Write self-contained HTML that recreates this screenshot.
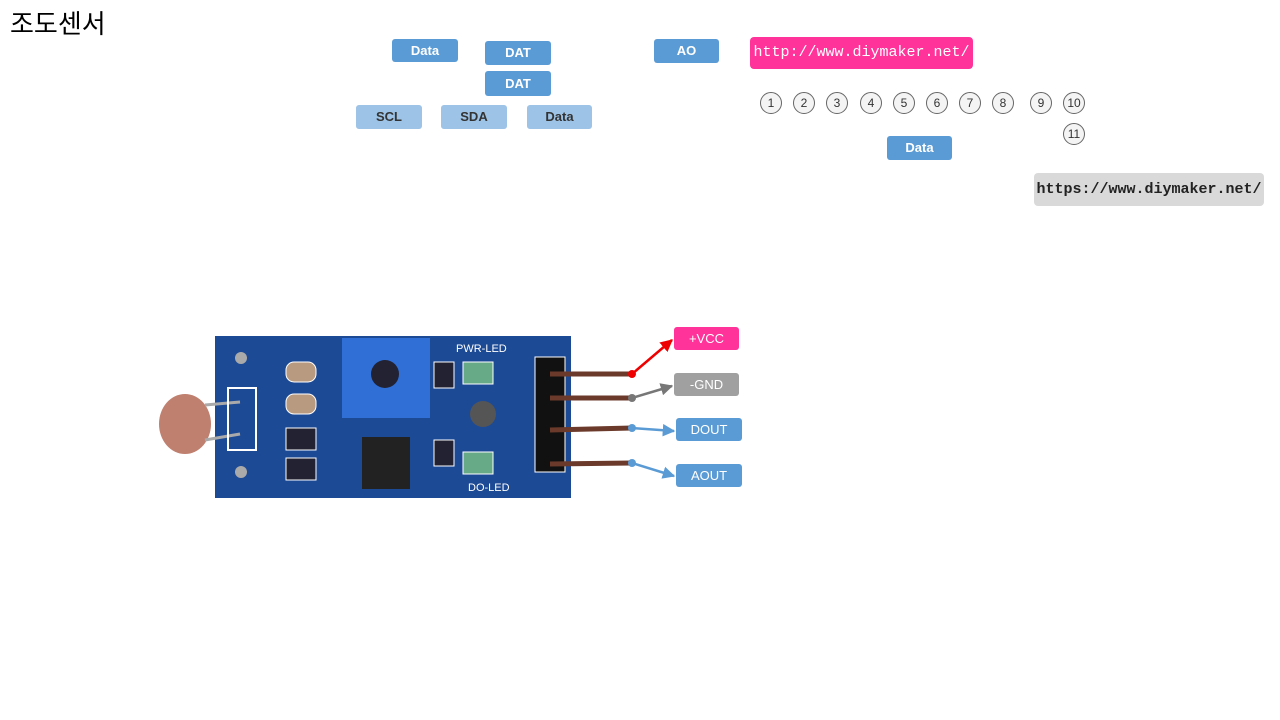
<!DOCTYPE html>
<html><head><meta charset="utf-8"><style>
body{margin:0;width:1280px;height:720px;background:#fff;position:relative;overflow:hidden;font-family:"Liberation Sans","Noto Sans CJK KR",sans-serif}
.b{position:absolute;color:#fff;font-size:13px;font-weight:bold;text-align:center;border-radius:3px;background:#5b9bd5}
.l{background:#9dc3e6;color:#333}
.c{position:absolute;width:20px;height:20px;border:1px solid #666;border-radius:50%;font-size:12px;text-align:center;line-height:20px;color:#333;background:#f4f4f4}
</style></head><body>
<div style="position:absolute;left:10px;top:4px;font-size:26px;color:#000">조도센서</div>
<div class="b" style="left:392px;top:39px;width:66px;height:23px;line-height:23px">Data</div>
<div class="b" style="left:485px;top:41px;width:66px;height:24px;line-height:24px">DAT</div>
<div class="b" style="left:485px;top:71px;width:66px;height:25px;line-height:25px">DAT</div>
<div class="b" style="left:654px;top:39px;width:65px;height:24px;line-height:24px">AO</div>
<div class="b l" style="left:356px;top:105px;width:66px;height:24px;line-height:24px">SCL</div>
<div class="b l" style="left:441px;top:105px;width:66px;height:24px;line-height:24px">SDA</div>
<div class="b l" style="left:527px;top:105px;width:65px;height:24px;line-height:24px">Data</div>
<div class="b" style="left:750px;top:37px;width:223px;height:32px;line-height:32px;background:#ff3399;font-family:'Liberation Mono',monospace;font-weight:normal;font-size:15px;border-radius:4px">http://www.diymaker.net/</div>
<div class="b" style="left:887px;top:136px;width:65px;height:24px;line-height:24px">Data</div>
<div class="b" style="left:1034px;top:173px;width:230px;height:33px;line-height:33px;background:#d9d9d9;color:#222;font-family:'Liberation Mono',monospace;font-size:15px;border-radius:4px">https://www.diymaker.net/</div>
<div class="c" style="left:760px;top:92px">1</div><div class="c" style="left:793px;top:92px">2</div><div class="c" style="left:826px;top:92px">3</div><div class="c" style="left:860px;top:92px">4</div><div class="c" style="left:893px;top:92px">5</div><div class="c" style="left:926px;top:92px">6</div><div class="c" style="left:959px;top:92px">7</div><div class="c" style="left:992px;top:92px">8</div><div class="c" style="left:1030px;top:92px">9</div><div class="c" style="left:1063px;top:92px">10</div><div class="c" style="left:1063px;top:123px">11</div>
<svg style="position:absolute;left:0;top:0" width="1280" height="720">
<defs>
<marker id="r" viewBox="0 0 10 10" refX="9" refY="5" markerWidth="5" markerHeight="5" orient="auto"><path d="M0 0L10 5L0 10z" fill="#e00"/></marker>
<marker id="g" viewBox="0 0 10 10" refX="9" refY="5" markerWidth="5" markerHeight="5" orient="auto"><path d="M0 0L10 5L0 10z" fill="#777"/></marker>
<marker id="bl" viewBox="0 0 10 10" refX="9" refY="5" markerWidth="5" markerHeight="5" orient="auto"><path d="M0 0L10 5L0 10z" fill="#5b9bd5"/></marker></defs>
<rect x="215" y="336" width="356" height="162" fill="#1d4a95"/>
<ellipse cx="185" cy="424" rx="26" ry="30" fill="#c08070"/>
<line x1="205" y1="405" x2="240" y2="402" stroke="#aaa" stroke-width="3"/><line x1="205" y1="440" x2="240" y2="434" stroke="#aaa" stroke-width="3"/>
<rect x="228" y="388" width="28" height="62" fill="none" stroke="#fff" stroke-width="2"/>
<circle cx="241" cy="358" r="6" fill="#aaa"/><circle cx="241" cy="472" r="6" fill="#aaa"/>
<rect x="342" y="338" width="88" height="80" fill="#2f6fd6"/><circle cx="385" cy="374" r="14" fill="#223"/>
<rect x="362" y="437" width="48" height="52" fill="#222"/>
<rect x="286" y="362" width="30" height="20" rx="8" fill="#b89a80" stroke="#fff"/><rect x="286" y="394" width="30" height="20" rx="8" fill="#b89a80" stroke="#fff"/>
<rect x="286" y="428" width="30" height="22" fill="#223" stroke="#fff"/><rect x="286" y="458" width="30" height="22" fill="#223" stroke="#fff"/>
<rect x="434" y="362" width="20" height="26" fill="#223" stroke="#fff"/><rect x="434" y="440" width="20" height="26" fill="#223" stroke="#fff"/>
<rect x="463" y="362" width="30" height="22" fill="#6a8" stroke="#fff"/><rect x="463" y="452" width="30" height="22" fill="#6a8" stroke="#fff"/>
<circle cx="483" cy="414" r="13" fill="#555"/>
<text x="456" y="352" fill="#fff" font-size="11" font-family="Liberation Sans">PWR-LED</text>
<text x="468" y="491" fill="#fff" font-size="11" font-family="Liberation Sans">DO-LED</text>
<rect x="535" y="357" width="30" height="115" fill="#111" stroke="#fff"/>
<g stroke="#6b3a2a" stroke-width="5"><line x1="550" y1="374" x2="632" y2="374"/><line x1="550" y1="398" x2="632" y2="398"/><line x1="550" y1="430" x2="632" y2="428"/><line x1="550" y1="464" x2="632" y2="463"/></g>
<line x1="632" y1="374" x2="672" y2="340" stroke="#e00" stroke-width="2.5" marker-end="url(#r)"/><circle cx="632" cy="374" r="4" fill="#e00"/>
<line x1="632" y1="398" x2="672" y2="386" stroke="#777" stroke-width="2.5" marker-end="url(#g)"/><circle cx="632" cy="398" r="4" fill="#777"/>
<line x1="632" y1="428" x2="674" y2="431" stroke="#5b9bd5" stroke-width="2.5" marker-end="url(#bl)"/><circle cx="632" cy="428" r="4" fill="#5b9bd5"/>
<line x1="632" y1="463" x2="674" y2="476" stroke="#5b9bd5" stroke-width="2.5" marker-end="url(#bl)"/><circle cx="632" cy="463" r="4" fill="#5b9bd5"/>
</svg>
<div class="b" style="left:674px;top:327px;width:65px;height:23px;line-height:23px;background:#ff3399;font-weight:normal">+VCC</div>
<div class="b" style="left:674px;top:373px;width:65px;height:23px;line-height:23px;background:#a0a0a0;font-weight:normal">-GND</div>
<div class="b" style="left:676px;top:418px;width:66px;height:23px;line-height:23px;font-weight:normal">DOUT</div>
<div class="b" style="left:676px;top:464px;width:66px;height:23px;line-height:23px;font-weight:normal">AOUT</div>
</body></html>
